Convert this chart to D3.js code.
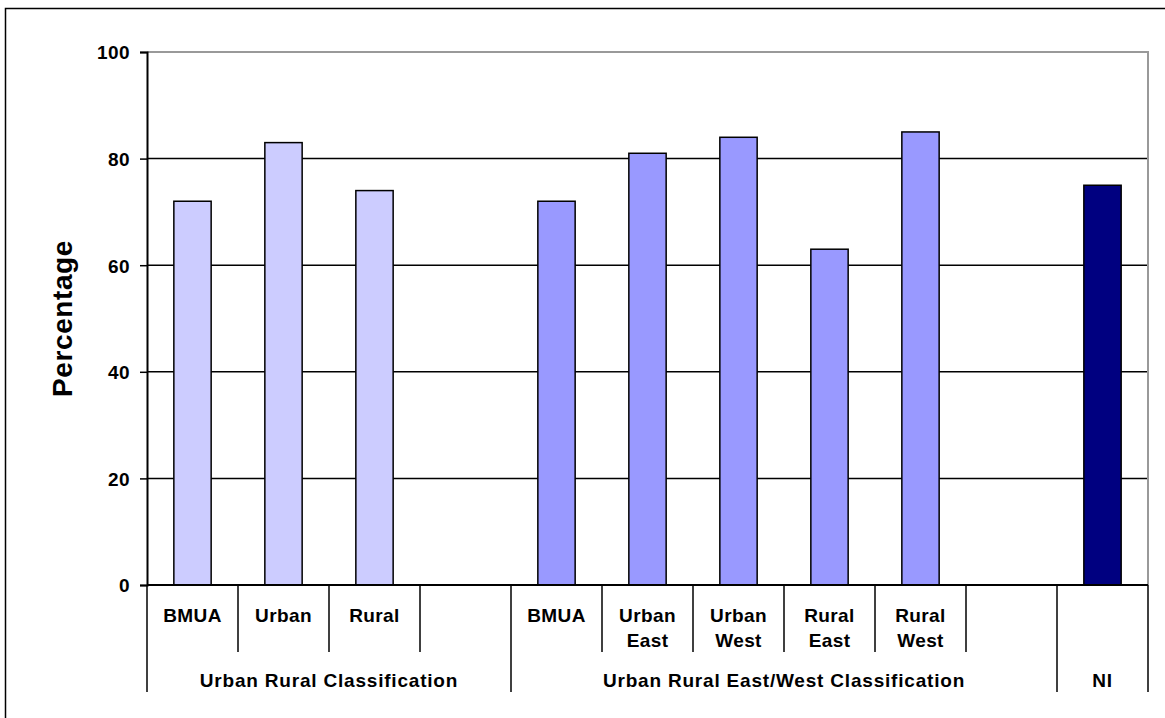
<!DOCTYPE html>
<html>
<head>
<meta charset="utf-8">
<script src="https://cdn.jsdelivr.net/npm/d3@7"></script>
<style>
  html, body { margin: 0; padding: 0; background: #fff; }
  svg { display: block; font-family: "Liberation Sans", Arial, sans-serif; }
  .lbl { font-weight: bold; font-size: 19px; fill: #000; letter-spacing: 0.4px; }
</style>
</head>
<body>
<svg id="chart" width="1165" height="718"></svg>
<script>
// Category slots along the x axis (empty slots are spacers between groups)
const slotLabels = [["BMUA"], ["Urban"], ["Rural"], [],
                    ["BMUA"], ["Urban", "East"], ["Urban", "West"], ["Rural", "East"], ["Rural", "West"], [],
                    []];
// Percentage for each slot (null = no bar)
const values = [72, 83, 74, null, 72, 81, 84, 63, 85, null, 75];
// Outer grouping of the slots
const groupNames = ["Urban Rural Classification", "Urban Rural East/West Classification", "NI"];
const groupSizes = [4, 6, 1];
const groupColors = ["#ccccff", "#9999ff", "#000080"];
// Value axis
const yTicks = [0, 20, 40, 60, 80, 100];
const yTitle = "Percentage";

const svg = d3.select("#chart");
const plot = { left: 147, right: 1148, top: 52, bottom: 585 };

// Outer chart frame
svg.append("rect")
  .attr("x", 5.5).attr("y", 8.5)
  .attr("width", 1200).attr("height", 750)
  .attr("fill", "#fff").attr("stroke", "#000").attr("stroke-width", 1.5);

const x = d3.scaleBand()
  .domain(d3.range(values.length))
  .range([plot.left, plot.right])
  .paddingInner(0).paddingOuter(0);

const y = d3.scaleLinear().domain([0, 100]).range([plot.bottom, plot.top]);

// Group index for each slot
const slotGroup = [];
groupSizes.forEach((n, g) => { for (let i = 0; i < n; i++) slotGroup.push(g); });

// Horizontal gridlines
svg.append("g").selectAll("line")
  .data(yTicks.filter(t => t > 0 && t < 100))
  .join("line")
  .attr("x1", plot.left).attr("x2", plot.right)
  .attr("y1", d => y(d)).attr("y2", d => y(d))
  .attr("stroke", "#000").attr("stroke-width", 1.5);

// Plot area border (top and right) in grey
svg.append("path")
  .attr("d", `M${plot.left},${y(100)}H${plot.right}V${plot.bottom}`)
  .attr("fill", "none").attr("stroke", "#999").attr("stroke-width", 2);

// Bars
const barW = x.bandwidth() * 0.41;
svg.append("g").selectAll("rect")
  .data(values.map((v, i) => ({ v, i })).filter(d => d.v != null))
  .join("rect")
  .attr("x", d => x(d.i) + (x.bandwidth() - barW) / 2)
  .attr("y", d => y(d.v))
  .attr("width", barW)
  .attr("height", d => y(0) - y(d.v))
  .attr("fill", d => groupColors[slotGroup[d.i]])
  .attr("stroke", "#000").attr("stroke-width", 1.5);

// Y axis
const yAxis = svg.append("g")
  .attr("transform", `translate(${plot.left},0)`)
  .call(d3.axisLeft(y).tickValues(yTicks).tickSize(7).tickPadding(10).tickFormat(d3.format("d")));
yAxis.select(".domain").attr("stroke", "#000").attr("stroke-width", 2);
yAxis.selectAll(".tick line").attr("stroke", "#000").attr("stroke-width", 1.5);
yAxis.selectAll(".tick text")
  .attr("class", "lbl").attr("font-family", null).attr("font-size", null)
  .attr("dy", "0.36em");

// Y title
svg.append("text")
  .attr("class", "lbl")
  .attr("transform", `translate(72,${(plot.top + plot.bottom) / 2}) rotate(-90)`)
  .attr("text-anchor", "middle")
  .style("font-size", "28px")
  .style("letter-spacing", "0.6px")
  .text(yTitle);

// X axis baseline
svg.append("line")
  .attr("x1", plot.left).attr("x2", plot.right)
  .attr("y1", plot.bottom).attr("y2", plot.bottom)
  .attr("stroke", "#000").attr("stroke-width", 2);

// Category separators (short) and group separators (long)
const groupStarts = [0];
groupSizes.forEach((n, g) => groupStarts.push(groupStarts[g] + n));
const boundaries = d3.range(values.length + 1);
svg.append("g").selectAll("line")
  .data(boundaries)
  .join("line")
  .attr("x1", i => i < values.length ? x(i) : plot.right)
  .attr("x2", i => i < values.length ? x(i) : plot.right)
  .attr("y1", plot.bottom)
  .attr("y2", i => groupStarts.includes(i) ? 692 : 652)
  .attr("stroke", "#000").attr("stroke-width", 1.5)
  .filter(i => !groupStarts.includes(i) && slotGroup[i] === 2).remove();

// Category labels
const catG = svg.append("g");
slotLabels.forEach((lines, i) => {
  lines.forEach((t, k) => {
    catG.append("text")
      .attr("class", "lbl")
      .attr("x", x(i) + x.bandwidth() / 2)
      .attr("y", 622 + k * 25)
      .attr("text-anchor", "middle")
      .text(t);
  });
});

// Group labels
svg.append("g").selectAll("text")
  .data(groupNames)
  .join("text")
  .attr("class", "lbl")
  .attr("x", (d, g) => (x(groupStarts[g]) + (groupStarts[g + 1] < values.length ? x(groupStarts[g + 1]) : plot.right)) / 2)
  .attr("y", 687)
  .attr("text-anchor", "middle")
  .style("letter-spacing", "0.8px")
  .text(d => d);
</script>
</body>
</html>
